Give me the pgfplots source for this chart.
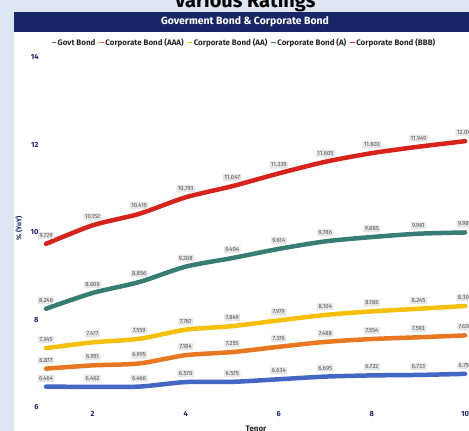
\documentclass[border=0pt]{standalone}
\usepackage{fontspec}
\setmainfont{Fira Sans}
\usepackage{pgfplots}
\pgfplotsset{compat=1.18}
\definecolor{bgblue}{RGB}{221,231,243}
\definecolor{navy}{RGB}{24,38,104}
\definecolor{cgovt}{RGB}{68,103,196}
\definecolor{caaa}{RGB}{232,119,34}
\definecolor{caa}{RGB}{245,192,10}
\definecolor{ca}{RGB}{55,125,115}
\definecolor{cbbb}{RGB}{214,36,28}
\definecolor{lblbg}{RGB}{230,230,230}
\definecolor{lbltx}{RGB}{85,85,85}
\newcommand{\legmark}[1]{\textcolor{#1}{\rule[2.3bp]{4.5bp}{1.2bp}}\hspace{1.5bp}}
\begin{document}
\begin{tikzpicture}
\useasboundingbox (0bp,0bp) rectangle (469bp,431bp);
\clip (0bp,0bp) rectangle (469bp,431bp);
\fill[bgblue] (0bp,0bp) rectangle (469bp,431bp);
\fill[white] (14bp,0bp) rectangle (469bp,399bp);
\fill[navy] (14bp,399bp) rectangle (469bp,419bp);
\node[anchor=base, font=\bfseries\fontsize{20}{20}\selectfont] at (245bp,423bp) {Various Ratings};
\node[text=white, font=\bfseries\fontsize{10.5}{10.5}\selectfont] at (245bp,409bp) {Goverment Bond \& Corporate Bond};
\node[rotate=90, text=navy, font=\bfseries\fontsize{7}{7}\selectfont] at (19bp,203bp) {\% (YoY)};
\node[text=black!85, font=\bfseries\fontsize{8}{8}\selectfont] at (256bp,2bp) {Tenor};
\node[text=black!85, font=\bfseries\fontsize{8}{8}\selectfont, inner sep=0pt] at (243.5bp,388bp)
  {\legmark{cgovt}Govt Bond\hspace{4bp}\legmark{caaa}Corporate Bond (AAA)\hspace{4bp}\legmark{caa}Corporate Bond (AA)\hspace{4bp}\legmark{ca}Corporate Bond (A)\hspace{4bp}\legmark{cbbb}Corporate Bond (BBB)};
\begin{axis}[
  at={(46bp,24bp)}, anchor=south west,
  scale only axis, width=419bp, height=350bp,
  xmin=1, xmax=10, ymin=6, ymax=14,
  axis x line*=bottom, axis y line*=left,
  axis line style={draw=none}, tick style={draw=none},
  xtick={2,4,6,8,10}, ytick={6,8,10,12,14},
  /pgf/number format/assume math mode=true,
  tick label style={text=navy, font=\bfseries\fontsize{7.5}{7.5}\selectfont},
  yticklabel style={xshift=-4bp},
  xticklabel style={yshift=-1bp},
  clip=false,
  point meta=explicit symbolic,
  nodes near coords,
  every node near coord/.style={anchor=center, yshift=8.5bp, fill=lblbg, text=lbltx, inner sep=1.5bp, rounded corners=0.5bp, font=\fontsize{6}{6}\selectfont},
  every axis plot/.append style={line width=4.5bp, smooth, tension=0.45, line cap=round},
]
\addplot[cgovt] coordinates {(1,6.464)[6.464] (2,6.462)[6.462] (3,6.466)[6.466] (4,6.570)[6.570] (5,6.575)[6.575] (6,6.634)[6.634] (7,6.695)[6.695] (8,6.722)[6.722] (9,6.733)[6.733] (10,6.757)[6.757]};
\addplot[caaa] coordinates {(1,6.877)[6.877] (2,6.951)[6.951] (3,6.995)[6.995] (4,7.184)[7.184] (5,7.255)[7.255] (6,7.376)[7.376] (7,7.488)[7.488] (8,7.554)[7.554] (9,7.593)[7.593] (10,7.636)[7.636]};
\addplot[caa] coordinates {(1,7.345)[7.345] (2,7.477)[7.477] (3,7.559)[7.559] (4,7.767)[7.767] (5,7.849)[7.849] (6,7.979)[7.979] (7,8.104)[8.104] (8,8.186)[8.186] (9,8.245)[8.245] (10,8.309)[8.309]};
\addplot[ca] coordinates {(1,8.246)[8.246] (2,8.606)[8.606] (3,8.856)[8.856] (4,9.208)[9.208] (5,9.404)[9.404] (6,9.614)[9.614] (7,9.786)[9.786] (8,9.885)[9.885] (9,9.961)[9.961] (10,9.989)[9.989]};
\addplot[cbbb] coordinates {(1,9.729)[9.729] (2,10.152)[10.152] (3,10.415)[10.415] (4,10.793)[10.793] (5,11.047)[11.047] (6,11.339)[11.339] (7,11.605)[11.605] (8,11.803)[11.803] (9,11.949)[11.949] (10,12.076)[12.076]};
\end{axis}
\end{tikzpicture}
\end{document}
